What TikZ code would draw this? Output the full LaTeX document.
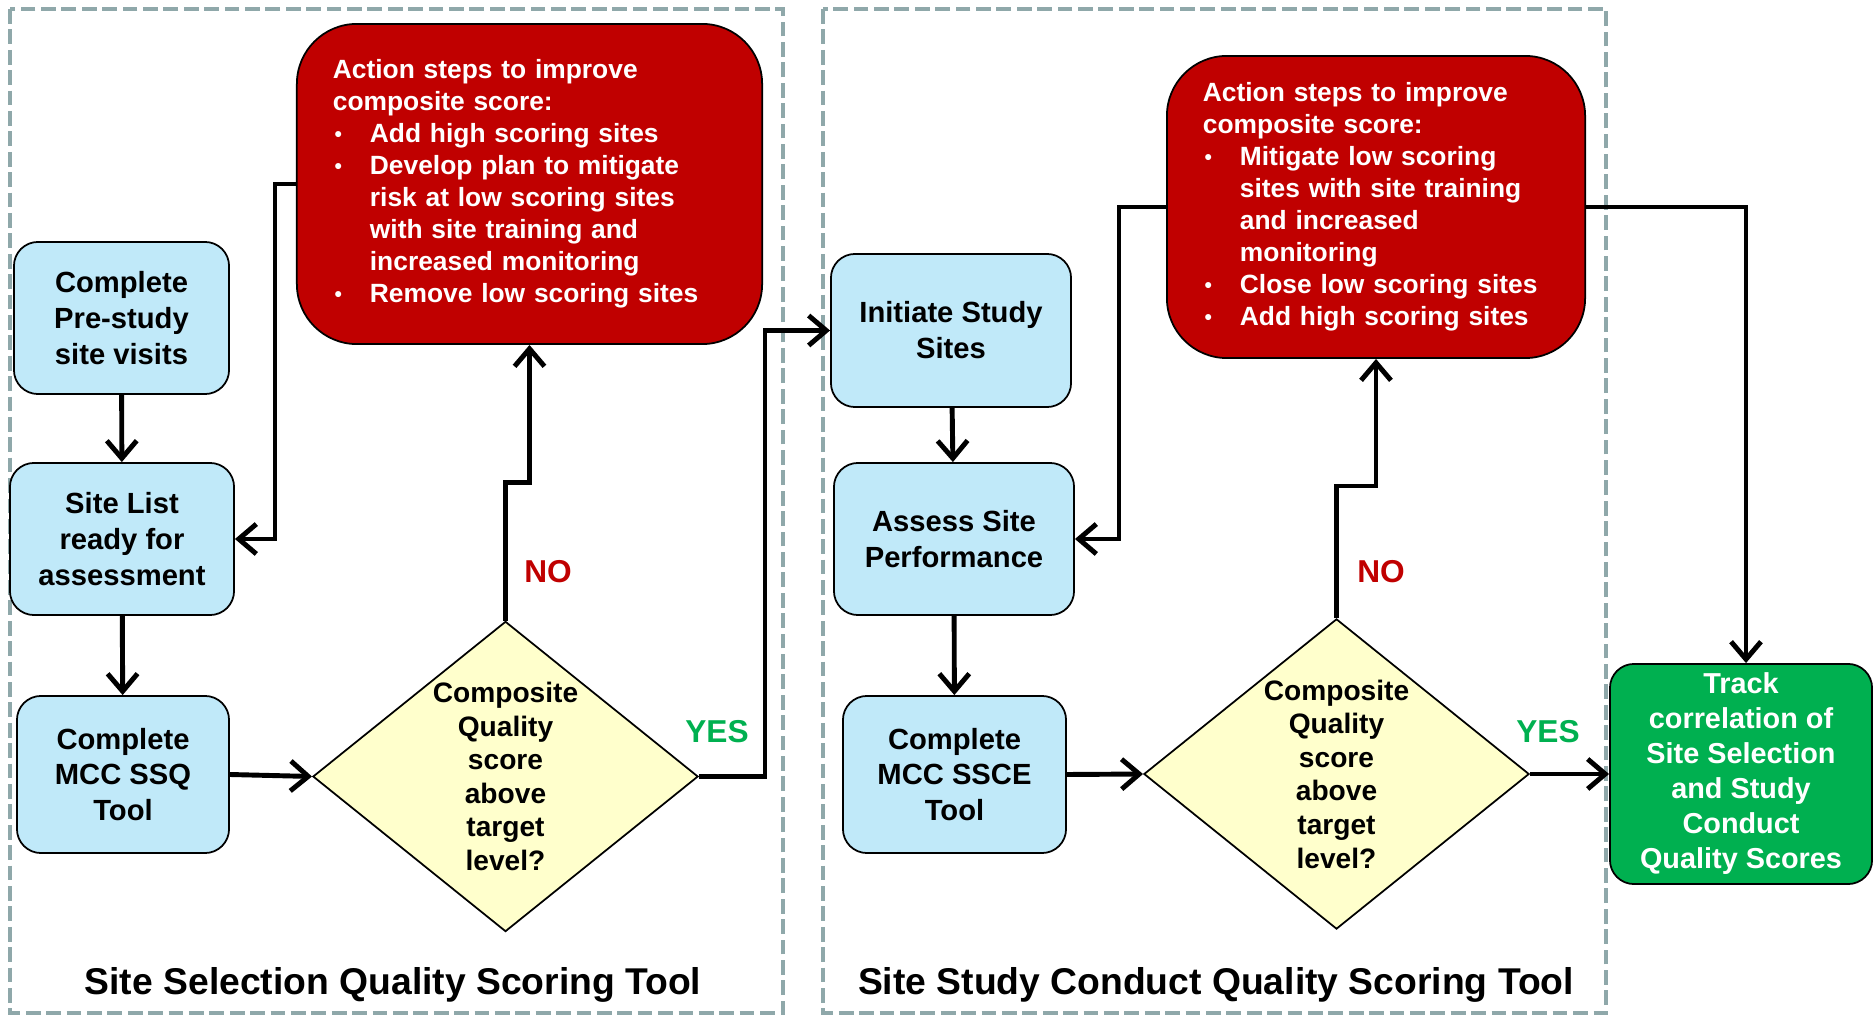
\documentclass[tikz,border=0pt]{standalone}
\usepackage{fontspec}
\setmainfont{Liberation Sans}
\usetikzlibrary{shapes.geometric,arrows.meta}

\definecolor{boxblue}{RGB}{192,233,249}
\definecolor{actred}{RGB}{192,0,0}
\definecolor{trackgreen}{RGB}{0,176,80}
\definecolor{decyellow}{RGB}{255,255,204}
\definecolor{panelgray}{RGB}{143,168,170}

\newcommand{\bul}{\makebox[0.37cm][l]{\hspace{0.5pt}\raisebox{0.4pt}{\fontsize{6}{6}\selectfont\textbullet}}}
\newcommand{\ind}{\hspace*{0.37cm}}

\begin{document}
\begin{tikzpicture}[x=0.01cm,y=-0.01cm,
    stepbox/.style={draw,rounded corners=0.24cm,fill=boxblue,line width=0.5pt,align=center,inner sep=0pt,font=\fontsize{8.3}{10.2}\selectfont\bfseries},
    actbox/.style={draw,rounded corners=0.6cm,fill=actred,text=white,line width=0.5pt,align=left,inner xsep=0.36cm,inner ysep=0pt,font=\fontsize{7.5}{9.1}\selectfont\bfseries},
    decide/.style={draw,diamond,fill=decyellow,line width=0.5pt,inner sep=0pt,minimum width=3.85cm,minimum height=3.1cm},
    qtext/.style={align=center,font=\fontsize{8}{9.55}\selectfont\bfseries},
    answer/.style={font=\fontsize{9}{10}\selectfont\bfseries},
    paneltitle/.style={font=\fontsize{10.6}{12}\selectfont\bfseries},
    panel/.style={draw=panelgray,line width=1.1pt,dash pattern=on 4.2pt off 1.6pt},
    flow/.style={-{Straight Barb[length=5pt,width=8.5pt]},line width=1.4pt}]
    \useasboundingbox (0,0) rectangle (1873,1016);

    \draw[panel] (10,9) rectangle (783,1013);
    \draw[panel] (823,9) rectangle (1606,1013);

    % site selection
    \node[stepbox,minimum width=2.15cm,minimum height=1.52cm] (pre) at (121.5,318) {Complete\\Pre-study\\site visits};
    \node[stepbox,minimum width=2.24cm,minimum height=1.52cm] (list) at (122,539) {Site List\\ready for\\assessment};
    \node[stepbox,minimum width=2.12cm,minimum height=1.57cm] (ssq) at (123,774.5) {Complete\\MCC SSQ\\Tool};
    \node[decide] (dec1) at (505.5,776.5) {};
    \node[qtext] (q1) at (dec1) {Composite\\Quality\\score\\above\\target\\level?};
    \node[actbox,text width=3.93cm,minimum height=3.2cm] (act1) at (529.5,184) {Action steps to improve\\composite score:\\\bul Add high scoring sites\\\bul Develop plan to mitigate\\\ind risk at low scoring sites\\\ind with site training and\\\ind increased monitoring\\\bul Remove low scoring sites};
    \node[answer,text=actred] (no1) at (548,572) {NO};
    \node[answer,text=trackgreen] (yes1) at (717,732) {YES};
    \node[paneltitle] (title1) at (393,985) {Site Selection Quality Scoring Tool};

    % study conduct
    \node[stepbox,minimum width=2.4cm,minimum height=1.53cm] (init) at (951,330.5) {Initiate Study\\Sites};
    \node[stepbox,minimum width=2.4cm,minimum height=1.52cm] (assess) at (954,539) {Assess Site\\Performance};
    \node[stepbox,minimum width=2.23cm,minimum height=1.57cm] (ssce) at (954.5,774.5) {Complete\\MCC SSCE\\Tool};
    \node[decide] (dec2) at (1336.5,774) {};
    \node[qtext] (q2) at (dec2) {Composite\\Quality\\score\\above\\target\\level?};
    \node[actbox,text width=3.46cm,minimum height=3.02cm] (act2) at (1376,207) {Action steps to improve\\composite score:\\\bul Mitigate low scoring\\\ind sites with site training\\\ind and increased\\\ind monitoring\\\bul Close low scoring sites\\\bul Add high scoring sites};
    \node[answer,text=actred] (no2) at (1381,572) {NO};
    \node[answer,text=trackgreen] (yes2) at (1548,732) {YES};
    \node[paneltitle] (title2) at (1216,985) {Site Study Conduct Quality Scoring Tool};

    \node[stepbox,fill=trackgreen,text=white,minimum width=2.62cm,minimum height=2.2cm,font=\fontsize{8.2}{9.95}\selectfont\bfseries] (track) at (1741,774) {Track\\correlation of\\Site Selection\\and Study\\Conduct\\Quality Scores};

    \draw[flow] (pre) -- (list);
    \draw[flow] (list) -- (ssq);
    \draw[flow] (ssq.east) -- (dec1.west);
    \draw[flow] (dec1.north) -- ++(0,-138) -| (act1.south);
    \draw[flow] (act1.west) -- ++(-21,0) |- (list.east);
    \draw[flow] (dec1.east) -- ++(66,0) |- (init.west);

    \draw[flow] (init) -- (assess);
    \draw[flow] (assess) -- (ssce);
    \draw[flow] (ssce.east) -- (dec2.west);
    \draw[flow] (dec2.north) -- ++(0,-132) -| (act2.south);
    \draw[flow] (act2.west) -- ++(-47,0) |- (assess.east);
    \draw[flow] (act2.east) -| ([xshift=0.05cm]track.north);
    \draw[flow] (dec2.east) -- (track.west);
\end{tikzpicture}
\end{document}
